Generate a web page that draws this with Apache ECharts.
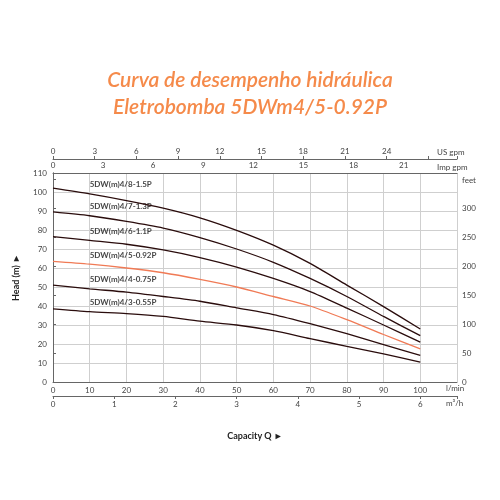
<!DOCTYPE html>
<html><head><meta charset="utf-8">
<script src="https://cdn.jsdelivr.net/npm/echarts@6/dist/echarts.min.js"></script>
<style>html,body{margin:0;padding:0;background:#fff}#c{width:500px;height:500px}</style>
</head><body><div id="c"></div>
<script>
const flowLmin = [0,10,20,30,40,50,60,70,80,90,100];
const names = ['5DW(m)4/8-1.5P','5DW(m)4/7-1.3P','5DW(m)4/6-1.1P','5DW(m)4/5-0.92P','5DW(m)4/4-0.75P','5DW(m)4/3-0.55P'];
const head8 = [102,99,95.5,91.5,86.4,79.8,72,62.4,51,39.7,27.9];
const head7 = [89.5,87.5,84.5,81,76,70,63,54.5,45,34.5,24.4];
const head6 = [76.5,74.5,72.5,69.5,65.5,60.5,54.5,47.6,38.9,30,21];
const head5 = [63.5,62,60,57.5,54,50,45,40,32.8,25,17.4];
const head4 = [51,49,47.3,45,42.5,39,35.5,30.7,25.4,19.7,14];
const head3 = [38.5,37,36,34.5,32,30,27,22.8,18.8,14.8,10.5];
const heads = [head8,head7,head6,head5,head4,head3];
const labelFlow = 10;
const colors = ['#2a0c0c','#2a0c0c','#2a0c0c','#f07a55','#2a0c0c','#2a0c0c'];
const XMAX = 110, YMAX = 110;
const axisGray = '#666';
const lbl = {color:'#444', fontSize:8, fontFamily:'Lato'};
function cut(lim){return v => v > lim ? '' : String(v);}
function xAx(o, lim){return Object.assign({type:'value', min:0, splitLine:{show:false},
  axisLine:{show:true,onZero:false,lineStyle:{color:axisGray}}, axisTick:{show:true,length:3,lineStyle:{color:axisGray}},
  axisLabel:Object.assign({margin:4, formatter:cut(lim)}, lbl)}, o);}
const unitText = (t,x,y,al) => ({type:'text', left:x, top:y, style:{text:t, fill:'#444', font:'8px Lato', textAlign:al||'center'}});
const chart = echarts.init(document.getElementById('c'));
chart.setOption({
  animation:false,
  title:{text:'Curva de desempenho hidráulica\nEletrobomba 5DWm4/5-0.92P', left:'center', top:62,
    textStyle:{color:'#f58a4a', fontSize:21, fontStyle:'italic', fontWeight:600, fontFamily:'Lato', lineHeight:27}},
  grid:{left:53, right:43, top:173, bottom:118},
  graphic:[
    unitText('l/min',446,384), unitText('m³/h',446,399),
    unitText('Imp gpm',437,163), unitText('US gpm',437,148), unitText('feet',462,176)
  ],
  xAxis:[
    xAx({position:'bottom', max:XMAX, interval:10,
      splitLine:{show:true,lineStyle:{color:'#cfcfcf',width:1}}, axisTick:{show:false}}, 100),
    xAx({position:'bottom', offset:14, max:XMAX*0.06, interval:1}, 6),
    xAx({position:'top', max:XMAX*0.219969, interval:3, axisTick:{show:false}}, 21),
    xAx({position:'top', offset:14, max:XMAX*0.264172, interval:3}, 24),
    {type:'value', position:'bottom', offset:60, min:0, max:1, axisLine:{show:false}, axisTick:{show:false}, axisLabel:{show:false}, splitLine:{show:false},
      name:'Capacity Q ►', nameLocation:'middle', nameGap:-10, nameTextStyle:{color:'#222',fontSize:9,fontWeight:'bold',fontFamily:'Lato'}}
  ],
  yAxis:[
    {type:'value', min:0, max:YMAX, interval:10, position:'left',
      name:'Head (m) ►', nameLocation:'middle', nameGap:32, nameTextStyle:{color:'#222',fontSize:9,fontWeight:'bold',fontFamily:'Lato'},
      axisLine:{show:true,lineStyle:{color:axisGray}}, axisTick:{show:false},
      axisLabel:Object.assign({margin:6},lbl), splitLine:{show:true,lineStyle:{color:'#cfcfcf'}}},
    {type:'value', min:0, max:YMAX*3.28084, interval:50, position:'right',
      axisLine:{show:true,lineStyle:{color:axisGray}}, axisTick:{show:true,length:3,lineStyle:{color:axisGray}},
      axisLabel:Object.assign({margin:5, formatter:cut(300)},lbl), splitLine:{show:false}}
  ],
  series: names.map((n,i)=>({
    name:n, type:'line', xAxisIndex:0, yAxisIndex:0, symbol:'none', smooth:0.25,
    lineStyle:{color:colors[i], width:1.3},
    data: flowLmin.map((x,j)=>[x,heads[i][j]])
  })).concat([{
    type:'scatter', xAxisIndex:0, yAxisIndex:0, symbolSize:0, silent:true,
    data: names.map((n,i)=>({value:[labelFlow, heads[i][flowLmin.indexOf(labelFlow)]], name:n})),
    label:{show:true, formatter:p=>p.name, position:'top', align:'left', offset:[0,-4],
      color:'#111', fontSize:8, fontWeight:'bold', fontFamily:'Lato'},
    labelLayout:{hideOverlap:false}
  }])
});
</script></body></html>
